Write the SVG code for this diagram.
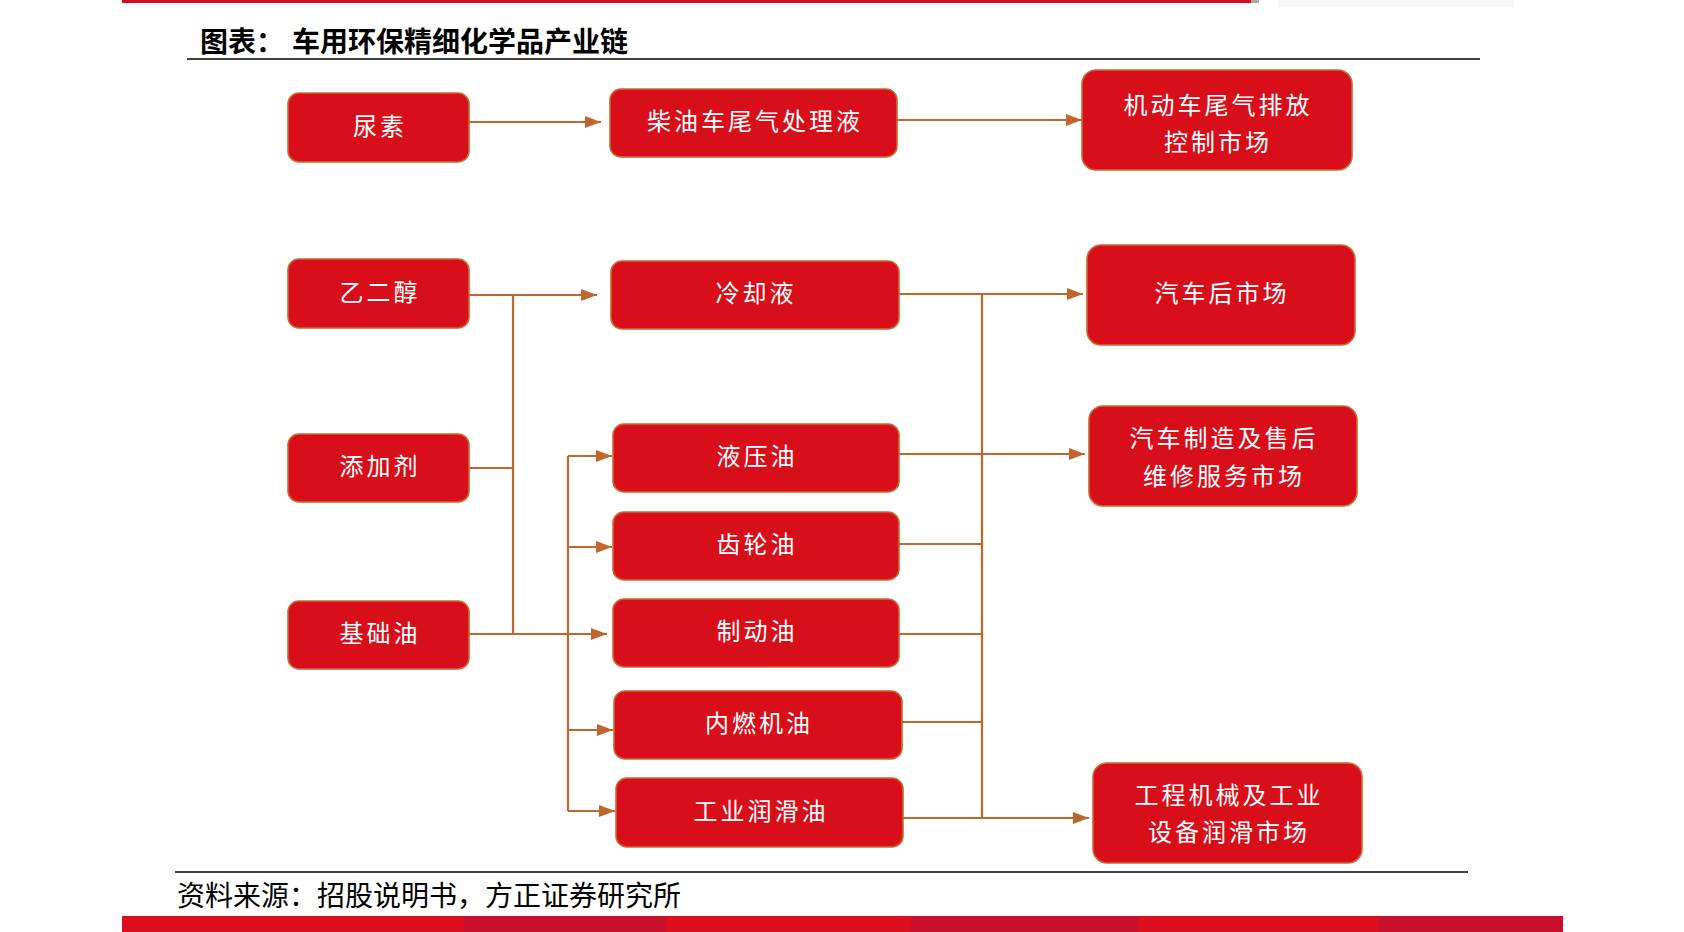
<svg xmlns="http://www.w3.org/2000/svg" width="1684" height="932" viewBox="0 0 1684 932">
<style>
.box{fill:#D80F1A;stroke:#C8692F;stroke-width:1.6}
.lbl{fill:#FFFFFF;font-family:"Noto Sans CJK SC","Noto Sans",sans-serif;font-size:24px;letter-spacing:3px;text-anchor:middle;dominant-baseline:central}
.conn{fill:none;stroke:#C0662C;stroke-width:2.2}
.title{fill:#000;font-family:"Noto Sans CJK SC",sans-serif;font-size:28px;font-weight:bold;dominant-baseline:central}
.src{fill:#000;font-family:"Noto Sans CJK SC",sans-serif;font-size:28px;dominant-baseline:central}
</style>
<defs>
<marker id="arr" viewBox="0 0 16 12" refX="16" refY="6" markerWidth="16" markerHeight="12" markerUnits="userSpaceOnUse" orient="auto">
<path d="M0,0 L16,6 L0,12 z" fill="#C0662C"/>
</marker>
</defs>
<rect width="1684" height="932" fill="#FFFFFF"/>
<g id="frame">
<rect x="122" y="0" width="1129" height="3" fill="#D01020"/>
<rect x="1251" y="0" width="8" height="3" fill="#A8A8A8"/>
<rect x="1278" y="0" width="236" height="7" fill="#F6F7F7"/>
<line x1="187" y1="59" x2="1480" y2="59" stroke="#000" stroke-width="1.6"/>
<line x1="175" y1="872" x2="1468" y2="872" stroke="#000" stroke-width="1.6"/>
<rect x="122" y="916" width="342" height="16" fill="#DC0F1E"/>
<rect x="464" y="916" width="202" height="16" fill="#C8102C"/>
<rect x="666" y="916" width="245" height="16" fill="#DC0F1E"/>
<rect x="911" y="916" width="227" height="16" fill="#C8102C"/>
<rect x="1138" y="916" width="240" height="16" fill="#DC0F1E"/>
<rect x="1378" y="916" width="185" height="16" fill="#C8102C"/>
</g>
<g id="title">
<text class="title" x="200" y="40">图表：</text>
<text class="title" x="292" y="40">车用环保精细化学品产业链</text>
</g>
<g id="source">
<text class="src" x="177" y="894">资料来源：招股说明书，方正证券研究所</text>
</g>
<g id="connectors">
<path class="conn" d="M469,122 H601" marker-end="url(#arr)"/>
<path class="conn" d="M897,120 H1082" marker-end="url(#arr)"/>
<path class="conn" d="M469,295 H597" marker-end="url(#arr)"/>
<path class="conn" d="M469,468 H513"/>
<path class="conn" d="M513,295 V634"/>
<path class="conn" d="M469,634 H607" marker-end="url(#arr)"/>
<path class="conn" d="M568,456 V811"/>
<path class="conn" d="M568,456 H612" marker-end="url(#arr)"/>
<path class="conn" d="M568,547 H612" marker-end="url(#arr)"/>
<path class="conn" d="M568,730 H613" marker-end="url(#arr)"/>
<path class="conn" d="M568,811 H615" marker-end="url(#arr)"/>
<path class="conn" d="M899,294 H1083" marker-end="url(#arr)"/>
<path class="conn" d="M899,454 H1085" marker-end="url(#arr)"/>
<path class="conn" d="M899,544 H982"/>
<path class="conn" d="M899,634 H982"/>
<path class="conn" d="M902,722 H982"/>
<path class="conn" d="M903,818 H1089" marker-end="url(#arr)"/>
<path class="conn" d="M982,294 V818"/>
</g>
<g id="n-niaosu"><rect class="box" x="288" y="93" width="181" height="69" rx="11"/><text class="lbl" x="380" y="124">尿素</text></g>
<g id="n-chaiyou"><rect class="box" x="610" y="89" width="287" height="68" rx="11"/><text class="lbl" x="755" y="119.5">柴油车尾气处理液</text></g>
<g id="n-jidongche"><rect class="box" x="1082" y="70" width="270" height="100" rx="14"/><text class="lbl" x="1218" y="103">机动车尾气排放</text><text class="lbl" x="1218" y="140">控制市场</text></g>
<g id="n-yierchun"><rect class="box" x="288" y="259" width="181" height="69" rx="11"/><text class="lbl" x="380" y="290">乙二醇</text></g>
<g id="n-lengque"><rect class="box" x="611" y="261" width="288" height="68" rx="11"/><text class="lbl" x="756" y="291.5">冷却液</text></g>
<g id="n-houshichang"><rect class="box" x="1087" y="245" width="268" height="100" rx="14"/><text class="lbl" x="1222" y="291.5">汽车后市场</text></g>
<g id="n-tianjiaji"><rect class="box" x="288" y="434" width="181" height="68" rx="11"/><text class="lbl" x="380" y="464.5">添加剂</text></g>
<g id="n-yeya"><rect class="box" x="613" y="424" width="286" height="68" rx="11"/><text class="lbl" x="757" y="454.5">液压油</text></g>
<g id="n-zhizao"><rect class="box" x="1089" y="406" width="268" height="100" rx="14"/><text class="lbl" x="1224" y="436.5">汽车制造及售后</text><text class="lbl" x="1224" y="474.5">维修服务市场</text></g>
<g id="n-chilun"><rect class="box" x="613" y="512" width="286" height="68" rx="11"/><text class="lbl" x="757" y="542.5">齿轮油</text></g>
<g id="n-jichu"><rect class="box" x="288" y="601" width="181" height="68" rx="11"/><text class="lbl" x="380" y="631.5">基础油</text></g>
<g id="n-zhidong"><rect class="box" x="613" y="599" width="286" height="68" rx="11"/><text class="lbl" x="757" y="629.5">制动油</text></g>
<g id="n-neiran"><rect class="box" x="614" y="691" width="288" height="68" rx="11"/><text class="lbl" x="759" y="721.5">内燃机油</text></g>
<g id="n-gongye"><rect class="box" x="616" y="778" width="287" height="69" rx="11"/><text class="lbl" x="761" y="809">工业润滑油</text></g>
<g id="n-gongcheng"><rect class="box" x="1093" y="763" width="269" height="100" rx="14"/><text class="lbl" x="1229" y="793.5">工程机械及工业</text><text class="lbl" x="1229" y="830.5">设备润滑市场</text></g>
</svg>
